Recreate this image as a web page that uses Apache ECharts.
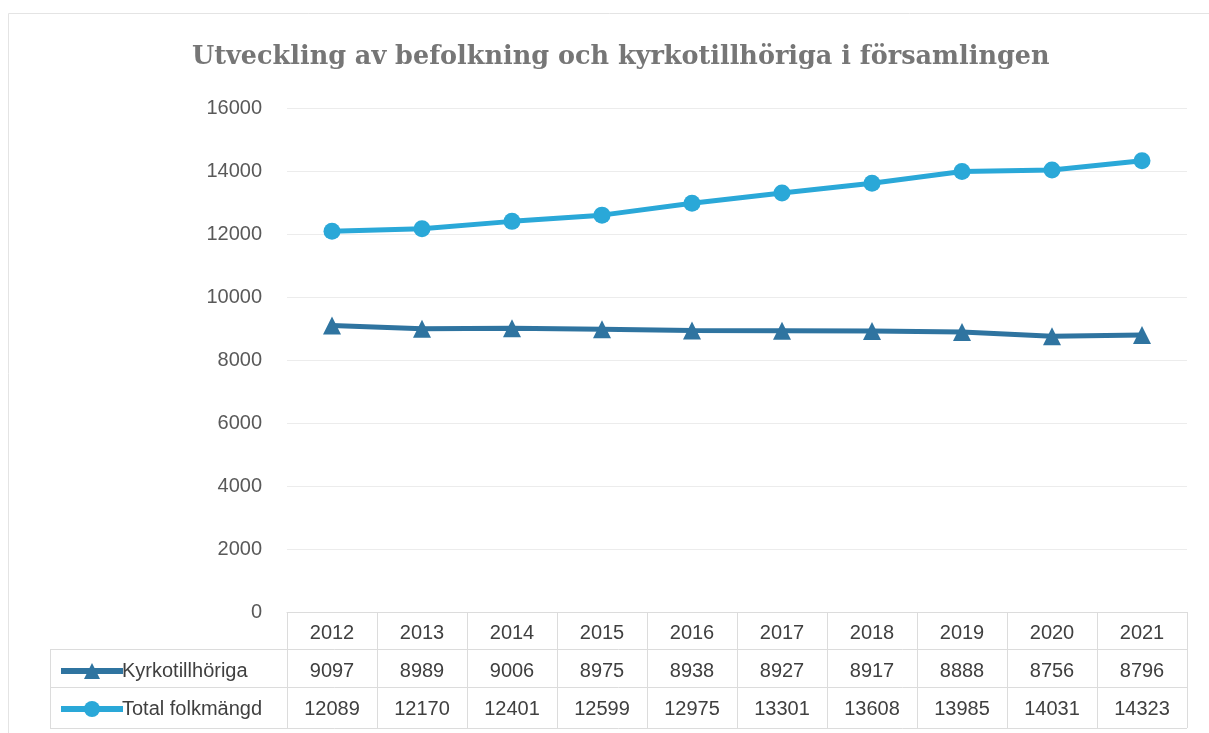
<!DOCTYPE html>
<html>
<head>
<meta charset="utf-8">
<script src="https://cdn.jsdelivr.net/npm/echarts@6/dist/echarts.min.js"></script>
<style>
html,body{margin:0;padding:0;background:#fff;}
#c{width:1209px;height:733px;}
</style>
</head>
<body>
<div id="c"></div>
<script>
const titleText = 'Utveckling av befolkning och kyrkotillhöriga i församlingen';
const years = ['2012','2013','2014','2015','2016','2017','2018','2019','2020','2021'];
const kyrkotillhoriga = [9097, 8989, 9006, 8975, 8938, 8927, 8917, 8888, 8756, 8796];
const totalFolkmangd = [12089, 12170, 12401, 12599, 12975, 13301, 13608, 13985, 14031, 14323];
const seriesNames = ['Kyrkotillhöriga', 'Total folkmängd'];
const yTicks = {min: 0, max: 16000, interval: 2000};

const chart = echarts.init(document.getElementById('c'));
const fontSans = '"Liberation Sans", Arial, sans-serif';
const gridL = 287, gridR = 1187, axisY = 612;
const tableLines = [649, 687, 728];
const legendLeft = 50;

const graphics = [
  {type:'rect', shape:{x:8.5,y:13.5,width:1240,height:760}, style:{fill:'none', stroke:'#e4e4e4', lineWidth:1}, silent:true}
];
tableLines.forEach(y => graphics.push({type:'line', shape:{x1:legendLeft, y1:y+0.5, x2:gridR, y2:y+0.5}, style:{stroke:'#dcdcdc', lineWidth:1}, silent:true}));
graphics.push({type:'line', shape:{x1:legendLeft+0.5, y1:tableLines[0], x2:legendLeft+0.5, y2:tableLines[2]}, style:{stroke:'#dcdcdc', lineWidth:1}, silent:true});

const legendBase = {left: 53, orient: 'vertical', itemWidth: 62, itemHeight: 20, itemGap: 0,
  lineStyle: {width: 6},
  textStyle: {fontFamily: fontSans, fontSize: 20, color: '#404040', padding: [0,0,0,-6]}};

chart.setOption({
  animation: false,
  backgroundColor: '#fff',
  title: {
    text: titleText,
    left: 187,
    top: 39,
    textStyle: {fontFamily: '"DejaVu Serif", serif', fontWeight: 'bold', fontSize: 25.5, color: '#767676'}
  },
  legend: [
    Object.assign({data: [seriesNames[0]], top: 656}, legendBase),
    Object.assign({data: [seriesNames[1]], top: 694}, legendBase)
  ],
  grid: {left: gridL, right: 1209 - gridR, top: 108, bottom: 733 - axisY, containLabel: false},
  xAxis: {
    type: 'category',
    data: years,
    boundaryGap: true,
    axisLine: {show: true, lineStyle: {color: '#dcdcdc', width: 1}},
    axisTick: {show: true, length: tableLines[2] - axisY, lineStyle: {color: '#dcdcdc'}},
    splitLine: {show: false},
    axisLabel: {
      margin: 2,
      interval: 0,
      lineHeight: 38,
      fontFamily: fontSans,
      fontSize: 20,
      color: '#404040',
      formatter: function (val, idx) {
        return val + '\n' + kyrkotillhoriga[idx] + '\n' + totalFolkmangd[idx];
      }
    }
  },
  yAxis: {
    type: 'value',
    min: yTicks.min, max: yTicks.max, interval: yTicks.interval,
    axisLine: {show: false},
    axisTick: {show: false},
    axisLabel: {margin: 25, fontFamily: fontSans, fontSize: 20, color: '#595959',
      formatter: function (v) { return String(v); }},
    splitLine: {lineStyle: {color: '#ececec', width: 1}}
  },
  series: [
    {
      name: seriesNames[0], type: 'line', data: kyrkotillhoriga,
      symbol: 'triangle', symbolSize: 18,
      lineStyle: {color: '#2f74a0', width: 5},
      itemStyle: {color: '#2f74a0'},
      z: 3
    },
    {
      name: seriesNames[1], type: 'line', data: totalFolkmangd,
      symbol: 'circle', symbolSize: 17,
      lineStyle: {color: '#2aa8d8', width: 5},
      itemStyle: {color: '#2aa8d8'},
      z: 4
    }
  ],
  graphic: graphics
});
</script>
</body>
</html>
